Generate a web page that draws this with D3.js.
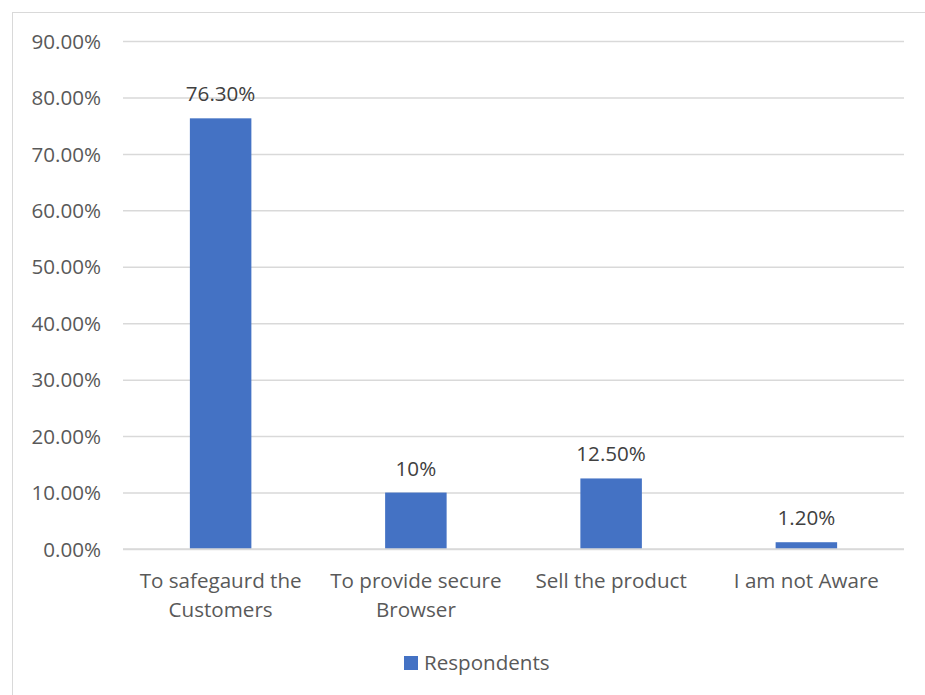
<!DOCTYPE html>
<html>
<head>
<meta charset="utf-8">
<script src="https://cdn.jsdelivr.net/npm/d3@7"></script>
<style>
  html, body { margin: 0; padding: 0; background: #fff; }
  svg { display: block; font-family: "Open Sans", "Noto Sans", sans-serif; }
</style>
</head>
<body>
<svg id="chart" width="925" height="695"></svg>
<script>
// Respondents' view of the purpose, as a share of all answers
const categories = [["To safegaurd the", "Customers"], ["To provide secure", "Browser"], ["Sell the product"], ["I am not Aware"]];
const values = [0.763, 0.10, 0.125, 0.012];
const valueLabels = ["76.30%", "10%", "12.50%", "1.20%"];
const tickValues = [0, 0.1, 0.2, 0.3, 0.4, 0.5, 0.6, 0.7, 0.8, 0.9];
const seriesName = "Respondents";

const svg = d3.select("#chart");
const plotLeft = 123, plotRight = 904, plotTop = 41, plotBottom = 549;
const barColor = "#4472c4";
const fontFamily = '"Open Sans", "Noto Sans", sans-serif';
const fontSize = 20.6;

// outer frame
svg.append("rect")
  .attr("x", 12.5).attr("y", 12.5).attr("width", 930).attr("height", 700)
  .attr("fill", "none").attr("stroke", "#d9d9d9").attr("stroke-width", 1);

const x = d3.scaleBand().domain(d3.range(categories.length)).range([plotLeft, plotRight]).paddingInner(0).paddingOuter(0);
const y = d3.scaleLinear().domain([0, 0.9]).range([plotBottom, plotTop]);
const barW = x.bandwidth() * 0.315;

// gridlines and tick labels
const yAxis = d3.axisLeft(y).tickValues(tickValues).tickFormat(d3.format(".2%")).tickSize(-(plotRight - plotLeft)).tickPadding(22);
const gy = svg.append("g").attr("transform", `translate(${plotLeft},0)`).call(yAxis)
  .attr("font-family", fontFamily).attr("font-size", fontSize);
gy.select(".domain").remove();
gy.selectAll(".tick line").attr("stroke", "#d9d9d9").attr("stroke-width", 1.5);
gy.selectAll(".tick text").attr("fill", "#595959").attr("dy", "0.35em");

// bars
svg.append("g").selectAll("rect").data(values).join("rect")
  .attr("x", (d, i) => x(i) + x.bandwidth() / 2 - barW / 2)
  .attr("width", barW)
  .attr("y", d => y(d))
  .attr("height", d => y(0) - y(d))
  .attr("fill", barColor);

// baseline over the bars
svg.append("line").attr("x1", plotLeft).attr("x2", plotRight).attr("y1", y(0)).attr("y2", y(0))
  .attr("stroke", "#d9d9d9").attr("stroke-width", 1.5);

// value labels
svg.append("g").selectAll("text").data(values).join("text")
  .attr("x", (d, i) => x(i) + x.bandwidth() / 2)
  .attr("y", d => y(d) - 17)
  .attr("text-anchor", "middle")
  .attr("font-size", fontSize)
  .attr("fill", "#404040")
  .text((d, i) => valueLabels[i]);

// category labels
const cat = svg.append("g").selectAll("text").data(categories).join("text")
  .attr("x", (d, i) => x(i) + x.bandwidth() / 2)
  .attr("y", 588)
  .attr("text-anchor", "middle")
  .attr("font-size", fontSize)
  .attr("fill", "#595959");
cat.selectAll("tspan").data(d => d).join("tspan")
  .attr("x", function() { return this.parentNode.getAttribute("x"); })
  .attr("dy", (d, j) => j === 0 ? 0 : 29)
  .text(d => d);

// legend
const lg = svg.append("g");
lg.append("rect").attr("x", 404).attr("y", 656).attr("width", 14).attr("height", 14).attr("fill", barColor);
lg.append("text").attr("x", 424).attr("y", 670).attr("font-size", fontSize).attr("fill", "#595959").text(seriesName);
</script>
</body>
</html>
